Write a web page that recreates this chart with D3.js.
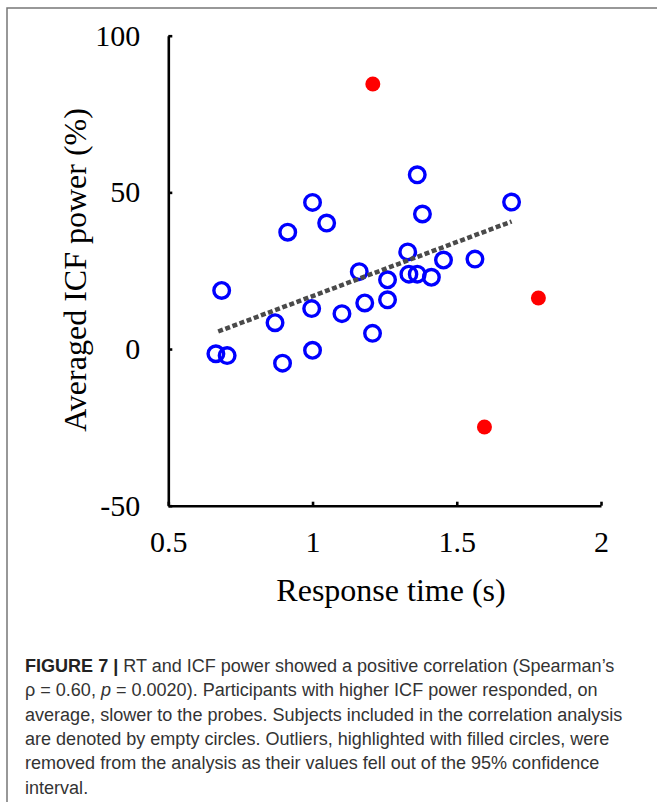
<!DOCTYPE html>
<html>
<head>
<meta charset="utf-8">
<script src="https://cdn.jsdelivr.net/npm/d3@7"></script>
<style>
  html, body { margin: 0; padding: 0; background: #fff; }
</style>
</head>
<body>
<div id="chart"></div>
<script>
// subjects kept in the correlation (empty circles)
const keptRT = [0.665, 0.704, 0.685, 0.870, 0.896, 0.914, 0.997, 1.000, 1.000, 1.049, 1.102, 1.162, 1.181,
  1.208, 1.260, 1.260, 1.330, 1.334, 1.363, 1.363, 1.381, 1.412, 1.454, 1.563, 1.690]
const keptPower = [-1.5, -2.1, 18.7, 8.4, -4.5, 37.3, 12.9, 46.8, -0.4, 40.2, 11.3, 24.7, 14.7,
  5.0, 22.1, 15.7, 31.0, 23.9, 23.9, 55.6, 43.1, 22.9, 28.4, 28.7, 46.9]
// outliers (filled circles)
const outlierRT = [1.209, 1.596, 1.783]
const outlierPower = [84.6, -24.9, 16.3]
// trend line end points
const trendRT = [0.673, 1.690]
const trendPower = [5.6, 40.7]

const xTicks = [0.5, 1, 1.5, 2]
const yTicks = [-50, 0, 50, 100]

const captionLines = [
  [{t: 'FIGURE 7 | ', b: true}, {t: 'RT and ICF power showed a positive correlation (Spearman\u2019s'}],
  [{t: '\u03c1 = 0.60, '}, {t: 'p', i: true}, {t: ' = 0.0020). Participants with higher ICF power responded, on'}],
  [{t: 'average, slower to the probes. Subjects included in the correlation analysis'}],
  [{t: 'are denoted by empty circles. Outliers, highlighted with filled circles, were'}],
  [{t: 'removed from the analysis as their values fell out of the 95% confidence'}],
  [{t: 'interval.'}]
]

const W = 657, H = 802
const serif = '"Liberation Serif", "Times New Roman", serif'

const svg = d3.select('#chart').append('svg')
  .attr('width', W)
  .attr('height', H)

// figure frame
svg.append('rect')
  .attr('x', 7).attr('y', 8)
  .attr('width', 800).attr('height', 900)
  .attr('fill', 'none')
  .attr('stroke', '#777')
  .attr('stroke-width', 1.5)

const xScale = d3.scaleLinear().domain([0.5, 2]).range([168.3, 601])
const yScale = d3.scaleLinear().domain([-50, 100]).range([505.7, 35.7])

const yAxis = svg.append('g')
  .attr('transform', `translate(${xScale(0.5)},0)`)
  .call(d3.axisLeft(yScale).tickValues(yTicks).tickFormat(d => String(d))
    .tickSizeInner(-4).tickSizeOuter(0).tickPadding(28))
const xAxis = svg.append('g')
  .attr('transform', `translate(0,${yScale(-50)})`)
  .call(d3.axisBottom(xScale).tickValues(xTicks).tickFormat(d => String(d))
    .tickSizeInner(-4).tickSizeOuter(0).tickPadding(25))

;[yAxis, xAxis].forEach(ax => {
  ax.select('.domain').attr('stroke', '#000').attr('stroke-width', 2.6)
  ax.selectAll('.tick line').attr('stroke', '#000').attr('stroke-width', 2.6)
  ax.selectAll('.tick text')
    .attr('fill', '#000')
    .style('font-family', serif)
    .style('font-size', '30px')
})

svg.append('text')
  .attr('transform', 'translate(86,270) rotate(-90)')
  .attr('text-anchor', 'middle')
  .style('font-family', serif)
  .style('font-size', '32px')
  .text('Averaged ICF power (%)')

svg.append('text')
  .attr('x', 391).attr('y', 601)
  .attr('text-anchor', 'middle')
  .style('font-family', serif)
  .style('font-size', '32px')
  .text('Response time (s)')

// kept subjects
svg.append('g').selectAll('circle')
  .data(keptRT)
  .enter().append('circle')
  .attr('cx', d => xScale(d))
  .attr('cy', (d, i) => yScale(keptPower[i]))
  .attr('r', 7.8)
  .attr('fill', 'none')
  .attr('stroke', '#0000ff')
  .attr('stroke-width', 3.4)

// outliers
svg.append('g').selectAll('circle')
  .data(outlierRT)
  .enter().append('circle')
  .attr('cx', d => xScale(d))
  .attr('cy', (d, i) => yScale(outlierPower[i]))
  .attr('r', 7.5)
  .attr('fill', '#ff0000')

// trend line
svg.append('line')
  .attr('x1', xScale(trendRT[0])).attr('y1', yScale(trendPower[0]))
  .attr('x2', xScale(trendRT[1])).attr('y2', yScale(trendPower[1]))
  .attr('stroke', '#4a4a4a')
  .attr('stroke-width', 4.5)
  .attr('stroke-dasharray', '5,2.6')

// caption
const cap = svg.append('g')
  .style('font-family', '"Liberation Sans", Arial, sans-serif')
  .style('font-size', '16px')
  .attr('fill', '#333')
const lines = cap.selectAll('text')
  .data(captionLines)
  .enter().append('text')
  .attr('x', 25)
  .attr('y', (d, i) => 672 + i * 24.3)
lines.selectAll('tspan')
  .data(d => d)
  .enter().append('tspan')
  .attr('font-weight', d => d.b ? 'bold' : null)
  .attr('font-style', d => d.i ? 'italic' : null)
  .attr('fill', d => d.b ? '#222' : null)
  .text(d => d.t)
// fit the caption width to the reference
const w3 = lines.nodes()[2].getComputedTextLength()
cap.style('font-size', (16 * 598 / w3).toFixed(2) + 'px')
</script>
</body>
</html>
